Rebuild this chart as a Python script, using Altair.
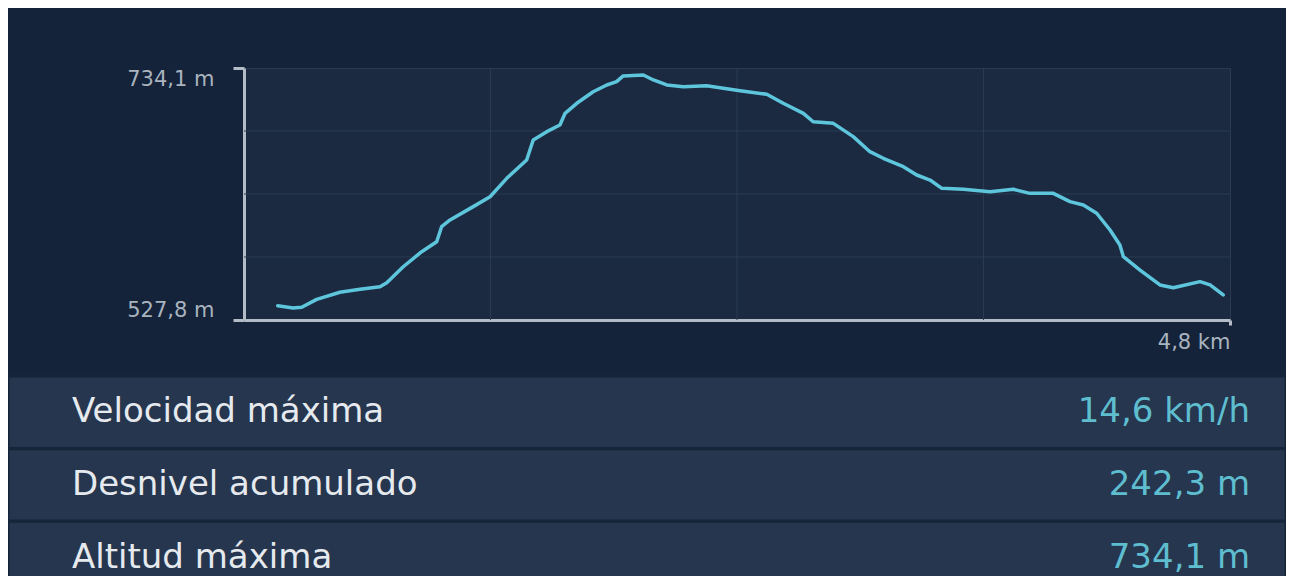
import altair as alt
import pandas as pd

# ---- data ----
dist_km = [0.164, 0.239, 0.281, 0.354, 0.467, 0.565, 0.662, 0.695, 0.775, 0.865,
           0.938, 0.962, 1.003, 1.116, 1.198, 1.279, 1.376, 1.408, 1.474, 1.538,
           1.563, 1.620, 1.700, 1.766, 1.814, 1.846, 1.944, 1.993, 2.058, 2.139,
           2.252, 2.333, 2.415, 2.545, 2.625, 2.723, 2.771, 2.869, 2.966, 3.047,
           3.112, 3.210, 3.275, 3.340, 3.397, 3.502, 3.632, 3.745, 3.826, 3.940,
           4.021, 4.086, 4.151, 4.216, 4.264, 4.281, 4.362, 4.459, 4.524, 4.654,
           4.703, 4.767]
elev_m = [539.5, 537.6, 538.2, 544.7, 550.5, 552.9, 555.1, 558.3, 571.4, 583.7,
          591.9, 604.2, 609.7, 620.6, 628.7, 643.8, 658.8, 675.2, 682.0, 687.4,
          697.0, 705.2, 714.7, 720.2, 722.9, 727.6, 728.4, 724.3, 720.2, 718.8,
          719.6, 717.5, 715.5, 712.6, 705.2, 697.0, 690.1, 688.8, 677.9, 665.6,
          660.2, 653.3, 646.5, 642.4, 635.6, 634.8, 632.8, 634.8, 631.5, 631.5,
          624.7, 622.0, 615.2, 601.5, 589.2, 579.6, 568.7, 556.5, 554.2, 559.2,
          556.5, 548.3]

x_domain = [0, 4.8]
x_ticks = [4.8]
y_ticks = [527.8, 734.1]
grid_x = [1.2, 2.4, 3.6]
grid_y = [579.375, 630.95, 682.525]

stat_labels = ["Velocidad máxima", "Desnivel acumulado", "Altitud máxima"]
stat_values = ["14,6 km/h", "242,3 m", "734,1 m"]

profile = pd.DataFrame({"d": dist_km, "e": elev_m})
gx = pd.DataFrame({"d": grid_x})
gy = pd.DataFrame({"e": grid_y})
stats = pd.DataFrame({"label": stat_labels, "value": stat_values})

FONT = "DejaVu Sans"
AXIS_C = "#b3bcc6"
GRID_C = "#2b3a50"
LABEL_C = "#a9b3be"

xs = alt.Scale(domain=x_domain, nice=False, zero=False)
ys = alt.Scale(domain=y_ticks, nice=False, zero=False)

x_axis = alt.Axis(
    values=x_ticks, title=None, grid=False,
    domainColor=AXIS_C, domainWidth=3,
    tickColor=AXIS_C, tickWidth=3, tickSize=5,
    labelAlign="right", labelBaseline="top", labelPadding=6, labelFlush=False,
    labelFont=FONT, labelFontSize=21, labelColor=LABEL_C,
    labelExpr="replace(format(datum.value, '.1f'), '.', ',') + ' km'",
)
y_axis = alt.Axis(
    values=y_ticks, title=None, grid=False,
    domainColor=AXIS_C, domainWidth=3,
    tickColor=AXIS_C, tickWidth=3, tickSize=11,
    labelPadding=19, labelFlush=True,
    labelFont=FONT, labelFontSize=21, labelColor=LABEL_C,
    labelExpr="replace(format(datum.value, '.1f'), '.', ',') + ' m'",
)

grid_v = alt.Chart(gx).mark_rule(color=GRID_C, strokeWidth=1).encode(
    x=alt.X("d:Q", scale=xs, axis=x_axis)
)
grid_h = alt.Chart(gy).mark_rule(color=GRID_C, strokeWidth=1).encode(
    y=alt.Y("e:Q", scale=ys, axis=y_axis)
)

line = alt.Chart(profile).mark_line(
    color="#5ec6dc", strokeWidth=3.5, strokeJoin="round", strokeCap="round"
).encode(
    x=alt.X("d:Q", scale=xs, axis=x_axis),
    y=alt.Y("e:Q", scale=ys, axis=y_axis),
)

sx = alt.Scale(domain=[0, 1], range=[-236, 1042])
sy = alt.Scale(domain=stat_labels, range=[308, 526], paddingInner=0, paddingOuter=0)
ypos = alt.Y("label:N", scale=sy, axis=None, sort=stat_labels)

rows = alt.Chart(stats).mark_rect(fill="#25364e", stroke="#16253a", strokeWidth=3).encode(
    x=alt.XDatum(0, type="quantitative", scale=sx, axis=None),
    x2=alt.X2Datum(1),
    y=ypos,
)
names = alt.Chart(stats).mark_text(
    align="left", baseline="middle", dx=64, font=FONT, fontSize=34, color="#e6eaee"
).encode(
    x=alt.XDatum(0, type="quantitative", scale=sx, axis=None),
    y=ypos,
    text="label:N",
)
vals = alt.Chart(stats).mark_text(
    align="right", baseline="middle", dx=-36, font=FONT, fontSize=34, color="#5fbdd0"
).encode(
    x=alt.XDatum(1, type="quantitative", scale=sx, axis=None),
    y=ypos,
    text="value:N",
)

chart = alt.layer(
    alt.layer(grid_v, grid_h, line),
    alt.layer(rows, names, vals),
).resolve_scale(x="independent", y="independent").properties(
    width=986,
    height=252,
    autosize=alt.AutoSizeParams(type="none"),
    padding={"left": 236, "top": 60, "right": 56, "bottom": 256},
    background="#14233a",
).configure_view(fill="#1b2a40", stroke=GRID_C)

chart.save("out.html", embed_options={"renderer": "svg", "actions": False})
